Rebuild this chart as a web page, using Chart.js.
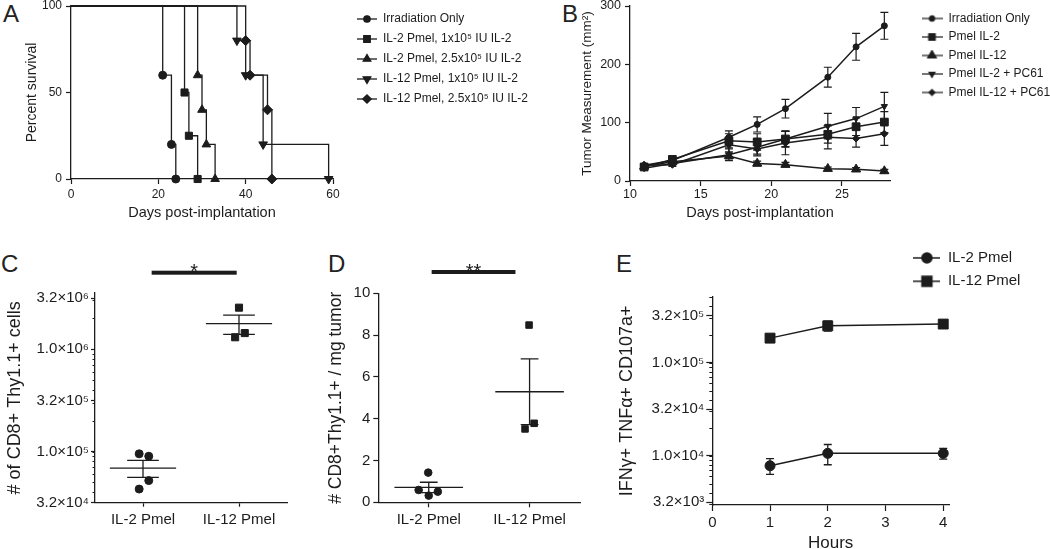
<!DOCTYPE html>
<html><head><meta charset="utf-8">
<script src="https://cdn.jsdelivr.net/npm/chart.js@4.4.1/dist/chart.umd.min.js"></script>
<style>
html,body{margin:0;padding:0;background:#fff;width:1050px;height:549px;overflow:hidden;position:relative;font-family:'Liberation Sans',Arial,Helvetica,sans-serif;}
canvas{position:absolute;}
.lbl{position:absolute;font-size:24px;color:#222;line-height:1;}
</style></head><body>
<div class="lbl" style="left:3px;top:2px">A</div>
<div class="lbl" style="left:562px;top:2px">B</div>
<div class="lbl" style="left:1px;top:252px">C</div>
<div class="lbl" style="left:328px;top:252px">D</div>
<div class="lbl" style="left:616px;top:252px">E</div>
<canvas id="cA" width="346" height="245" style="left:0;top:-10px"></canvas>
<canvas id="lA" width="200" height="125" style="left:349px;top:5px"></canvas>
<canvas id="cB" width="380" height="245" style="left:530px;top:-10px"></canvas>
<canvas id="lB" width="135" height="110" style="left:915px;top:6px"></canvas>
<canvas id="cC" width="300" height="299" style="left:0;top:250px"></canvas>
<canvas id="cD" width="290" height="299" style="left:310px;top:250px"></canvas>
<canvas id="cE" width="360" height="310" style="left:605px;top:250px"></canvas>
<canvas id="lE" width="145" height="60" style="left:905px;top:242px"></canvas>
<script>
// ---------- Panel A: survival (days, percent) ----------
const survIrrDays = [0, 21, 23, 24];
const survIrrPct = [100, 60, 20, 0];
const survIL2loDays = [0, 26, 27, 29];
const survIL2loPct = [100, 50, 25, 0];
const survIL2hiDays = [0, 29, 30, 31, 33];
const survIL2hiPct = [100, 60, 40, 20, 0];
const survIL12loDays = [0, 38, 40, 44, 59];
const survIL12loPct = [100, 80, 60, 20, 0];
const survIL12hiDays = [0, 40, 41, 45, 46];
const survIL12hiPct = [100, 80, 60, 40, 0];
const legendA = ['Irradiation Only', 'IL-2 Pmel, 1x10⁵ IU IL-2', 'IL-2 Pmel, 2.5x10⁵ IU IL-2', 'IL-12 Pmel, 1x10⁵ IU IL-2', 'IL-12 Pmel, 2.5x10⁵ IU IL-2'];

// ---------- Panel B: tumor measurement ----------
const tumorDays = [11, 13, 17, 19, 21, 24, 26, 28];
const tumIrr = [27, 35, 75, 97, 124, 178, 230, 266];
const tumIrrErr = [3, 3, 11, 13, 16, 17, 23, 23];
const tumIL2 = [24, 37, 69, 67, 72, 80, 93, 101];
const tumIL2Err = [3, 3, 12, 14, 13, 15, 15, 18];
const tumIL12 = [25, 33, 43, 30, 28, 21, 20, 17];
const tumIL12Err = [2, 3, 5, 4, 4, 3, 3, 3];
const tumIL2PC = [22, 30, 45, 58, 72, 94, 107, 128];
const tumIL2PCErr = [2, 3, 10, 12, 14, 22, 19, 24];
const tumIL12PC = [27, 28, 62, 55, 65, 75, 73, 81];
const tumIL12PCErr = [2, 3, 12, 12, 20, 20, 15, 20];
const legendB = ['Irradiation Only', 'Pmel IL-2', 'Pmel IL-12', 'Pmel IL-2 + PC61', 'Pmel IL-12 + PC61'];

// ---------- Panel C: # CD8+ Thy1.1+ cells ----------
const groupLabels = ['IL-2 Pmel', 'IL-12 Pmel'];
const cIL2 = [9.5e4, 9.0e4, 5.2e4, 4.3e4];
const cIL2Jitter = [-0.04, 0.06, 0.06, -0.04];
const cIL12 = [2.55e6, 1.44e6, 1.31e6];
const cIL12Jitter = [0, 0.06, -0.04];
const cMean = [6.9e4, 1.78e6];
const cSem = [1.3e4, 0.38e6];
const cYTickVals = [10 ** 4.5, 1e5, 10 ** 5.5, 1e6, 10 ** 6.5];
const cYTickLabels = ['3.2×10⁴', '1.0×10⁵', '3.2×10⁵', '1.0×10⁶', '3.2×10⁶'];
const cSig = '*';

// ---------- Panel D: per mg tumor ----------
const dIL2 = [0.59, 0.32, 0.51, 1.42];
const dIL2Jitter = [-0.1, 0, 0.09, -0.005];
const dIL12 = [8.48, 3.78, 3.51];
const dIL12Jitter = [-0.005, 0.045, -0.045];
const dMean = [0.71, 5.29];
const dSem = [0.25, 1.57];
const dSig = '**';

// ---------- Panel E: IFNγ+ TNFα+ CD107a+ ----------
const eHours = [1, 2, 4];
const eIL2 = [7.8e3, 1.06e4, 1.06e4];
const eIL2Err = [1.5e3, 2.6e3, 1.4e3];
const eIL12 = [1.83e5, 2.48e5, 2.59e5];
const eIL12Err = [1.0e4, 3.0e4, 1.5e4];
const eYTickVals = [10 ** 3.5, 1e4, 10 ** 4.5, 1e5, 10 ** 5.5];
const eYTickLabels = ['3.2×10³', '1.0×10⁴', '3.2×10⁴', '1.0×10⁵', '3.2×10⁵'];
const legendE = ['IL-2 Pmel', 'IL-12 Pmel'];

// ---------- common ----------
const FONT = "'Liberation Sans', Arial, Helvetica, sans-serif";
const INK = '#1c1c1c';
Chart.defaults.font.family = FONT;
Chart.defaults.color = INK;
Chart.defaults.borderColor = INK;

const pts = (xs, ys) => xs.map((x, i) => ({ x: x, y: ys[i] }));

function axisCommon(fontSize, tickLen, pad) {
  return {
    ticks: { color: INK, font: { size: fontSize }, padding: pad, autoSkip: false, maxRotation: 0, includeBounds: false },
    grid: { display: true, drawOnChartArea: false, drawTicks: true, tickLength: tickLen, tickColor: INK, tickWidth: 1.2 },
    border: { display: true, color: INK, width: 1.3 }
  };
}
function merge(a, b) {
  const o = Object.assign({}, a);
  for (const k in b) {
    if (b[k] && typeof b[k] === 'object' && !Array.isArray(b[k]) && a[k] && typeof a[k] === 'object') o[k] = merge(a[k], b[k]);
    else o[k] = b[k];
  }
  return o;
}

const errorBarPlugin = {
  id: 'errorBars',
  beforeDatasetsDraw(chart, args, opts) {
    const ctx = chart.ctx, xs = chart.scales.x, ys = chart.scales.y;
    const cw = opts.capWidth || 8;
    ctx.save();
    ctx.strokeStyle = INK;
    ctx.lineWidth = opts.lineWidth || 1.2;
    chart.data.datasets.forEach(ds => {
      if (!ds.errors) return;
      ds.data.forEach((p, i) => {
        const e = ds.errors[i];
        const x = xs.getPixelForValue(p.x);
        const yt = ys.getPixelForValue(p.y + e);
        const yb = ys.getPixelForValue(p.y - e);
        ctx.beginPath();
        ctx.moveTo(x, yt); ctx.lineTo(x, yb);
        ctx.moveTo(x - cw / 2, yt); ctx.lineTo(x + cw / 2, yt);
        ctx.moveTo(x - cw / 2, yb); ctx.lineTo(x + cw / 2, yb);
        ctx.stroke();
      });
    });
    ctx.restore();
  }
};

const meanSemPlugin = {
  id: 'meanSem',
  beforeDatasetsDraw(chart, args, opts) {
    const ctx = chart.ctx, xs = chart.scales.x, ys = chart.scales.y;
    ctx.save();
    ctx.strokeStyle = INK;
    ctx.lineWidth = opts.lineWidth || 1.3;
    opts.means.forEach((m, i) => {
      const s = opts.sems[i];
      const ym = ys.getPixelForValue(m), yt = ys.getPixelForValue(m + s), yb = ys.getPixelForValue(m - s);
      const xl = xs.getPixelForValue(i - opts.halfWidth), xr = xs.getPixelForValue(i + opts.halfWidth);
      const cl = xs.getPixelForValue(i - opts.capHalf), cr = xs.getPixelForValue(i + opts.capHalf);
      const xc = xs.getPixelForValue(i);
      ctx.beginPath();
      ctx.moveTo(xl, ym); ctx.lineTo(xr, ym);
      ctx.moveTo(xc, yt); ctx.lineTo(xc, yb);
      ctx.moveTo(cl, yt); ctx.lineTo(cr, yt);
      ctx.moveTo(cl, yb); ctx.lineTo(cr, yb);
      ctx.stroke();
    });
    ctx.restore();
  }
};

const sigPlugin = {
  id: 'sigBar',
  afterDraw(chart, args, opts) {
    const ctx = chart.ctx, xs = chart.scales.x;
    const y = chart.chartArea.top - opts.gap;
    const x0 = xs.getPixelForValue(opts.x0), x1 = xs.getPixelForValue(opts.x1);
    ctx.save();
    ctx.fillStyle = INK;
    ctx.fillRect(x0, y - opts.thick / 2, x1 - x0, opts.thick);
    ctx.font = opts.fontSize + 'px ' + FONT;
    ctx.textAlign = 'center';
    ctx.textBaseline = 'alphabetic';
    ctx.fillText(opts.text, (x0 + x1) / 2, y - opts.thick / 2 - 1 + 0.43 * opts.fontSize);
    ctx.restore();
  }
};

const minorTicksPlugin = {
  id: 'minorTicks',
  afterDraw(chart, args, opts) {
    const ctx = chart.ctx, ys = chart.scales.y, left = chart.chartArea.left;
    const lo = Math.floor(Math.log10(ys.min)), hi = Math.ceil(Math.log10(ys.max));
    ctx.save();
    ctx.strokeStyle = INK;
    ctx.lineWidth = 1;
    ctx.beginPath();
    for (let d = lo; d <= hi; d++) {
      for (let k = 1; k <= 9; k++) {
        const v = k * Math.pow(10, d);
        if (v < ys.min || v > ys.max) continue;
        const y = Math.round(ys.getPixelForValue(v)) + 0.5;
        ctx.moveTo(left - opts.len, y); ctx.lineTo(left, y);
      }
    }
    ctx.stroke();
    ctx.restore();
  }
};

function lineSet(data, style, r, rot, bw, extra) {
  return Object.assign({
    data: data, borderColor: INK, borderWidth: bw, backgroundColor: INK,
    pointStyle: style, pointRadius: r, pointRotation: rot,
    pointBackgroundColor: INK, pointBorderColor: INK, pointBorderWidth: 1,
    fill: false, tension: 0, clip: false
  }, extra || {});
}

function makeSymbol(style, w, h, r, rot, lw) {
  const c = document.createElement('canvas');
  c.width = w; c.height = h;
  const g = c.getContext('2d');
  g.strokeStyle = INK; g.fillStyle = INK; g.lineWidth = lw;
  g.beginPath(); g.moveTo(0, h / 2); g.lineTo(w, h / 2); g.stroke();
  if (Chart.helpers && Chart.helpers.drawPoint) {
    Chart.helpers.drawPoint(g, { pointStyle: style, radius: r, rotation: rot, borderWidth: 1 }, w / 2, h / 2);
  } else {
    g.beginPath(); g.arc(w / 2, h / 2, r, 0, Math.PI * 2); g.fill();
  }
  return c;
}

function legendChart(id, labels, symbols, fontSize, pad, symW) {
  new Chart(document.getElementById(id), {
    type: 'line',
    data: { datasets: [] },
    options: {
      responsive: false, animation: false, events: [],
      layout: { padding: 0 },
      scales: { x: { display: false }, y: { display: false } },
      plugins: {
        tooltip: { enabled: false },
        legend: {
          display: true, position: 'left', align: 'start', maxWidth: 2000,
          labels: {
            usePointStyle: true, pointStyleWidth: symW, padding: pad, color: INK,
            font: { size: fontSize, family: FONT },
            generateLabels: () => labels.map((t, i) => ({
              text: t, pointStyle: symbols[i], fillStyle: INK, strokeStyle: INK,
              fontColor: INK, lineWidth: 0, hidden: false, datasetIndex: i
            }))
          }
        }
      }
    }
  });
}

// ---------- Chart A ----------
const hideFirst = r => (c => c.dataIndex === 0 ? 0 : r);
new Chart(document.getElementById('cA'), {
  type: 'line',
  data: { datasets: [
    lineSet(pts(survIrrDays, survIrrPct), 'circle', hideFirst(4), 0, 1.3, { stepped: 'before' }),
    lineSet(pts(survIL2loDays, survIL2loPct), 'rect', hideFirst(5), 0, 1.3, { stepped: 'before' }),
    lineSet(pts(survIL2hiDays, survIL2hiPct), 'triangle', hideFirst(5), 0, 1.3, { stepped: 'before' }),
    lineSet(pts(survIL12loDays, survIL12loPct), 'triangle', hideFirst(5), 180, 1.3, { stepped: 'before' }),
    lineSet(pts(survIL12hiDays, survIL12hiPct), 'rectRot', hideFirst(5), 0, 1.3, { stepped: 'before' })
  ]},
  options: {
    responsive: false, animation: false, events: [],
    layout: { padding: { left: 0, right: 13, top: 16, bottom: 0 } },
    scales: {
      x: merge(axisCommon(12, 5, 3), { type: 'linear', min: 0, max: 60, ticks: { stepSize: 20 },
        afterFit: s => { s.height = 56; },
        title: { display: true, text: 'Days post-implantation', color: INK, font: { size: 14.5 }, padding: { top: 0, bottom: 13 } } }),
      y: merge(axisCommon(12, 5, 4), { min: 0, max: 100, ticks: { stepSize: 50 },
        afterFit: s => { s.width = 71; },
        title: { display: true, text: 'Percent survival', color: INK, font: { size: 14 }, padding: { top: 24, bottom: 0 } } })
    },
    plugins: { legend: { display: false }, tooltip: { enabled: false } }
  }
});
legendChart('lA', legendA, [
  makeSymbol('circle', 20, 12, 3.2, 0, 1.3),
  makeSymbol('rect', 20, 12, 4.6, 0, 1.3),
  makeSymbol('triangle', 20, 12, 4.4, 0, 1.3),
  makeSymbol('triangle', 20, 12, 4.4, 180, 1.3),
  makeSymbol('rectRot', 20, 12, 4.2, 0, 1.3)
], 12, 8, 20);

// ---------- Chart B ----------
new Chart(document.getElementById('cB'), {
  type: 'line',
  data: { datasets: [
    lineSet(pts(tumorDays, tumIrr), 'circle', 3, 0, 1.5, { errors: tumIrrErr }),
    lineSet(pts(tumorDays, tumIL2), 'rect', 5.5, 0, 1.5, { errors: tumIL2Err }),
    lineSet(pts(tumorDays, tumIL12), 'triangle', 5.3, 0, 1.5, { errors: tumIL12Err }),
    lineSet(pts(tumorDays, tumIL2PC), 'triangle', 3.6, 180, 1.5, { errors: tumIL2PCErr }),
    lineSet(pts(tumorDays, tumIL12PC), 'rectRot', 3.6, 0, 1.5, { errors: tumIL12PCErr })
  ]},
  plugins: [errorBarPlugin],
  options: {
    responsive: false, animation: false, events: [],
    layout: { padding: { left: 0, right: 20, top: 16, bottom: 0 } },
    scales: {
      x: merge(axisCommon(12.5, 5, 1.5), { type: 'linear', min: 10, max: 28.4, ticks: { stepSize: 5 },
        afterFit: s => { s.height = 54; },
        title: { display: true, text: 'Days post-implantation', color: INK, font: { size: 14.5 }, padding: { top: 0, bottom: 13 } } }),
      y: merge(axisCommon(12.5, 5, 4), { min: 0, max: 300, ticks: { stepSize: 100 },
        afterFit: s => { s.width = 100; },
        title: { display: true, text: 'Tumor Measurement (mm²)', color: INK, font: { size: 13.5 }, padding: { top: 49, bottom: 0 } } })
    },
    plugins: { legend: { display: false }, tooltip: { enabled: false }, errorBars: { capWidth: 8, lineWidth: 1.2 } }
  }
});
legendChart('lB', legendB, [
  makeSymbol('circle', 21, 12, 2.6, 0, 1.2),
  makeSymbol('rect', 21, 12, 4.6, 0, 1.2),
  makeSymbol('triangle', 21, 12, 5, 0, 1.2),
  makeSymbol('triangle', 21, 12, 3.4, 180, 1.2),
  makeSymbol('rectRot', 21, 12, 3, 0, 1.2)
], 12, 6.5, 21);

// ---------- Chart C ----------
new Chart(document.getElementById('cC'), {
  type: 'scatter',
  data: { datasets: [
    lineSet(cIL2.map((v, i) => ({ x: 0 + cIL2Jitter[i], y: v })), 'circle', 4, 0, 0, { showLine: false }),
    lineSet(cIL12.map((v, i) => ({ x: 1 + cIL12Jitter[i], y: v })), 'rect', 5, 0, 0, { showLine: false })
  ]},
  plugins: [meanSemPlugin, sigPlugin, minorTicksPlugin],
  options: {
    responsive: false, animation: false, events: [],
    layout: { padding: { left: 0, right: 13, top: 43, bottom: 0 } },
    scales: {
      x: merge(axisCommon(15, 4, 4), { type: 'linear', min: -0.5, max: 1.5,
        afterBuildTicks: s => { s.ticks = groupLabels.map((_, i) => ({ value: i })); },
        ticks: { callback: (v, i) => groupLabels[i] },
        afterFit: s => { s.height = 46.3; } }),
      y: merge(axisCommon(15, 4, 2), { type: 'logarithmic', min: Math.pow(10, 4.5), max: Math.pow(10, 6.55),
        afterBuildTicks: s => { s.ticks = cYTickVals.map(v => ({ value: v })); },
        ticks: { callback: (v, i) => cYTickLabels[i] },
        afterFit: s => { s.width = 95; },
        title: { display: true, text: '# of CD8+ Thy1.1+ cells', color: INK, font: { size: 18 }, padding: { top: 4, bottom: 0 } } })
    },
    plugins: {
      legend: { display: false }, tooltip: { enabled: false },
      meanSem: { means: cMean, sems: cSem, halfWidth: 0.345, capHalf: 0.165, lineWidth: 1.3 },
      sigBar: { x0: 0.09, x1: 0.976, gap: 20.3, thick: 4, text: cSig, fontSize: 20 },
      minorTicks: { len: 2.5 }
    }
  }
});

// ---------- Chart D ----------
new Chart(document.getElementById('cD'), {
  type: 'scatter',
  data: { datasets: [
    lineSet(dIL2.map((v, i) => ({ x: 0 + dIL2Jitter[i], y: v })), 'circle', 3.8, 0, 0, { showLine: false }),
    lineSet(dIL12.map((v, i) => ({ x: 1 + dIL12Jitter[i], y: v })), 'rect', 4.6, 0, 0, { showLine: false })
  ]},
  plugins: [meanSemPlugin, sigPlugin],
  options: {
    responsive: false, animation: false, events: [],
    layout: { padding: { left: 0, right: 20, top: 43.3, bottom: 0 } },
    scales: {
      x: merge(axisCommon(15, 5, 3.7), { type: 'linear', min: -0.5, max: 1.5,
        afterBuildTicks: s => { s.ticks = groupLabels.map((_, i) => ({ value: i })); },
        ticks: { callback: (v, i) => groupLabels[i] },
        afterFit: s => { s.height = 46.7; } }),
      y: merge(axisCommon(15, 5, 3), { min: 0, max: 10, ticks: { stepSize: 2 },
        afterFit: s => { s.width = 68.3; },
        title: { display: true, text: '# CD8+Thy1.1+ / mg tumor', color: INK, font: { size: 17.5 }, padding: { top: 15.5, bottom: 0 } } })
    },
    plugins: {
      legend: { display: false }, tooltip: { enabled: false },
      meanSem: { means: dMean, sems: dSem, halfWidth: 0.34, capHalf: 0.088, lineWidth: 1.3 },
      sigBar: { x0: 0.029, x1: 0.86, gap: 21.3, thick: 4, text: dSig, fontSize: 20 }
    }
  }
});

// ---------- Chart E ----------
new Chart(document.getElementById('cE'), {
  type: 'line',
  data: { datasets: [
    lineSet(pts(eHours, eIL2), 'circle', 5, 0, 1.5, { errors: eIL2Err }),
    lineSet(pts(eHours, eIL12), 'rect', 7, 0, 1.5, { errors: eIL12Err })
  ]},
  plugins: [errorBarPlugin, minorTicksPlugin],
  options: {
    responsive: false, animation: false, events: [],
    layout: { padding: { left: 0, right: 16, top: 46.7, bottom: 0 } },
    scales: {
      x: merge(axisCommon(15, 6, 3), { type: 'linear', min: 0, max: 4.1, ticks: { stepSize: 1 },
        afterFit: s => { s.height = 55; },
        title: { display: true, text: 'Hours', color: INK, font: { size: 17 }, padding: { top: 0, bottom: 6.8 } } }),
      y: merge(axisCommon(15, 6, 2), { type: 'logarithmic', min: Math.pow(10, 3.471), max: Math.pow(10, 5.707),
        afterBuildTicks: s => { s.ticks = eYTickVals.map(v => ({ value: v })); },
        ticks: { callback: (v, i) => eYTickLabels[i] },
        afterFit: s => { s.width = 107.3; },
        title: { display: true, text: 'IFNγ+ TNFα+ CD107a+', color: INK, font: { size: 18 }, padding: { top: 11, bottom: 0 } } })
    },
    plugins: {
      legend: { display: false }, tooltip: { enabled: false },
      errorBars: { capWidth: 8, lineWidth: 1.3 },
      minorTicks: { len: 3 }
    }
  }
});
legendChart('lE', legendE, [
  makeSymbol('circle', 27, 14, 5, 0, 1.5),
  makeSymbol('rect', 27, 14, 7, 0, 1.5)
], 15, 8.4, 27);
</script>
</body></html>
